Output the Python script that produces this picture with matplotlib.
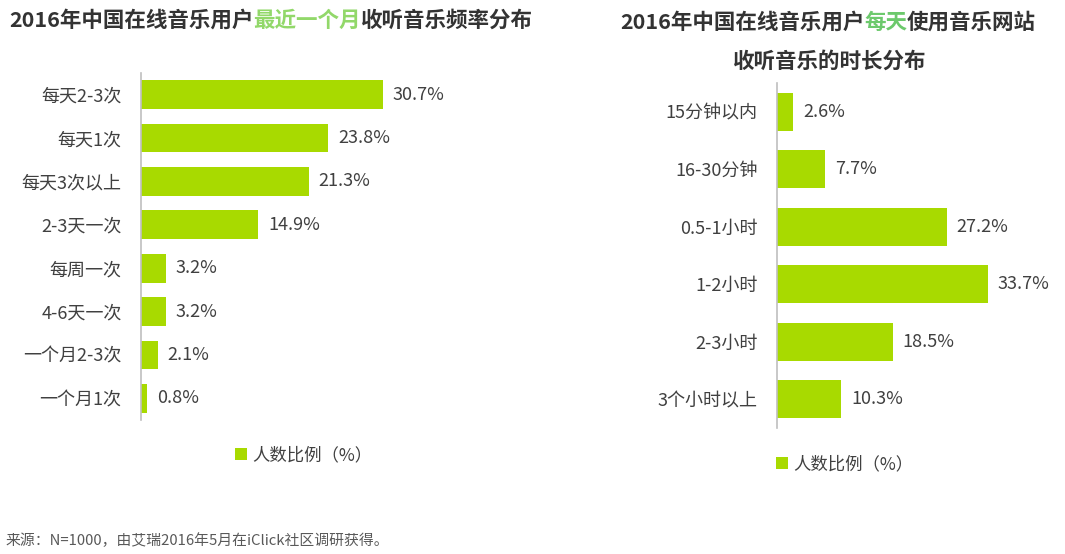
import matplotlib
matplotlib.use("Agg")
import matplotlib.pyplot as plt

plt.rcParams['font.family'] = ['Noto Sans CJK SC', 'DejaVu Sans']

# left chart: listening frequency in the last month
freq_labels = ['每天2-3次', '每天1次', '每天3次以上', '2-3天一次', '每周一次', '4-6天一次', '一个月2-3次', '一个月1次']
freq_values = [30.7, 23.8, 21.3, 14.9, 3.2, 3.2, 2.1, 0.8]

# right chart: daily listening duration
dur_labels = ['15分钟以内', '16-30分钟', '0.5-1小时', '1-2小时', '2-3小时', '3个小时以上']
dur_values = [2.6, 7.7, 27.2, 33.7, 18.5, 10.3]

legend_label = '人数比例（%）'
source_text = '来源：N=1000，由艾瑞2016年5月在iClick社区调研获得。'

BAR = '#a8da00'
TXT = '#404040'
W, H = 1065, 554


def rich_text(fig, xc, y, parts, **kw):
    # draw a line of text made of differently coloured pieces, centred at xc
    texts = [fig.text(0, y, s, color=c, ha='left', va='center', **kw) for s, c in parts]
    r = fig.canvas.get_renderer()
    widths = [t.get_window_extent(r).width for t in texts]
    x0 = xc * fig.bbox.width - sum(widths) / 2
    for t, w in zip(texts, widths):
        t.set_x(x0 / fig.bbox.width)
        x0 += w


def barh_panel(ax, labels, values, pad):
    y = range(len(labels))
    bars = ax.barh(y, values, height=0.66, color=BAR, label=legend_label)
    ax.set_ylim(len(labels) - 0.5, -0.5)
    ax.set_xlim(0, 40)
    ax.set_yticks(list(y))
    ax.set_yticklabels(labels, fontsize=13, color=TXT)
    ax.tick_params(axis='y', length=0, pad=pad)
    ax.set_xticks([])
    for s in ['top', 'right', 'bottom']:
        ax.spines[s].set_visible(False)
    ax.spines['left'].set_color('#bfbfbf')
    ax.spines['left'].set_linewidth(1.2)
    for i, v in enumerate(values):
        ax.annotate(f'{v}%', (v, i), xytext=(7, 0), textcoords='offset points',
                    va='center', ha='left', fontsize=13, color=TXT)
    return bars


fig = plt.figure(figsize=(W / 100, H / 100), dpi=100)
fig.patch.set_facecolor('white')

ax1 = fig.add_axes([141 / W, 1 - 420 / H, 315 / W, 347 / H])
ax2 = fig.add_axes([777 / W, 1 - 428 / H, 250 / W, 345 / H])

b1 = barh_panel(ax1, freq_labels, freq_values, 14)
b2 = barh_panel(ax2, dur_labels, dur_values, 14)

for ax, b, (lx, ly) in [(ax1, b1, (219, 455)), (ax2, b2, (760, 464))]:
    ax.legend(handles=[b], labels=[legend_label], loc='center left',
              bbox_to_anchor=(lx / W, 1 - ly / H), bbox_transform=fig.transFigure,
              frameon=False, handlelength=0.7, handleheight=0.7, handletextpad=0.3,
              prop={'size': 12.5}, labelcolor=TXT)

title_kw = dict(fontsize=15.5, fontweight='bold')
rich_text(fig, 271 / W, 1 - 20 / H,
          [('2016年中国在线音乐用户', '#333333'), ('最近一个月', '#92d86a'), ('收听音乐频率分布', '#333333')],
          **title_kw)
rich_text(fig, 828 / W, 1 - 22 / H,
          [('2016年中国在线音乐用户', '#333333'), ('每天', '#6cc96c'), ('使用音乐网站', '#333333')],
          **title_kw)
rich_text(fig, 830 / W, 1 - 61 / H, [('收听音乐的时长分布', '#333333')], **title_kw)

fig.text(5 / W, 1 - 541 / H, source_text, fontsize=10.7, color='#595959', ha='left', va='center')

fig.savefig('out.png', dpi=100, facecolor='white')
